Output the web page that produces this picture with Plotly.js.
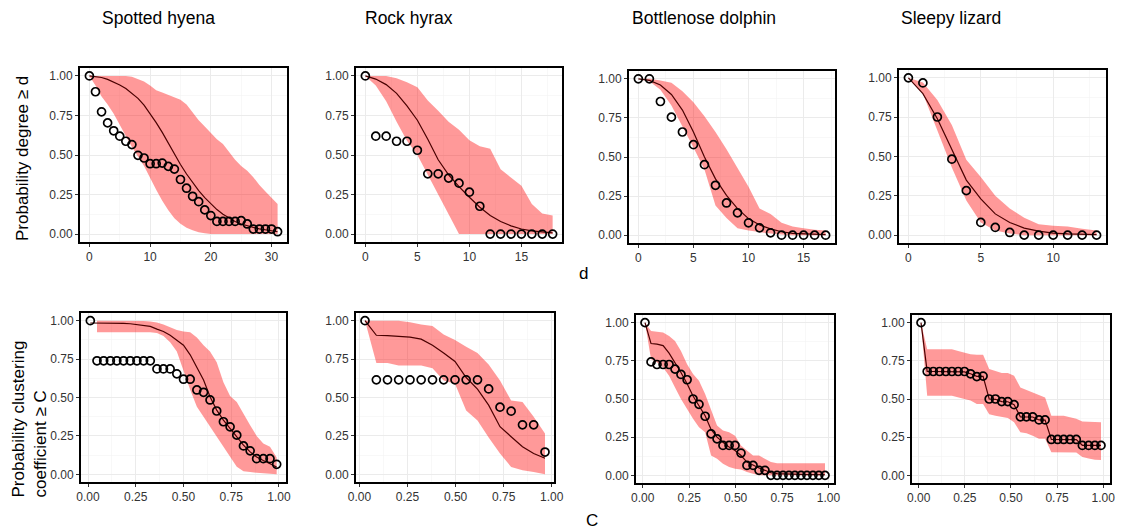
<!DOCTYPE html>
<html>
<head>
<meta charset="utf-8">
<script src="https://cdn.plot.ly/plotly-3.0.1.min.js"></script>
<style>html,body{margin:0;padding:0;background:#fff;}#chart{width:1123px;height:531px;}</style>
</head>
<body>
<div id="chart"></div>
<script>
// ---------------- DATA ----------------
const speciesTitles = ["Spotted hyena", "Rock hyrax", "Bottlenose dolphin", "Sleepy lizard"];
const degreeAxisTitle = "d";
const clusterAxisTitle = "C";
const degreeYTitle = "Probability degree \u2265 d";
const clusterYTitle1 = "Probability clustering";
const clusterYTitle2 = "coefficient \u2265 C";

// Degree distributions
const hyenaDeg = [0,1,2,3,4,5,6,7,8,9,10,11,12,13,14,15,16,17,18,19,20,21,22,23,24,25,26,27,28,29,30,31];
const hyenaDegObs = [1.00,0.90,0.773,0.703,0.653,0.619,0.587,0.566,0.498,0.481,0.445,0.445,0.449,0.428,0.411,0.345,0.29,0.239,0.205,0.153,0.117,0.08,0.08,0.08,0.08,0.085,0.064,0.032,0.032,0.032,0.032,0.015];
const hyenaDegMean = [1,0.997,0.99,0.978,0.962,0.943,0.92,0.89,0.858,0.815,0.763,0.705,0.643,0.575,0.505,0.44,0.38,0.325,0.275,0.23,0.19,0.155,0.125,0.1,0.08,0.064,0.052,0.042,0.033,0.026,0.02,0.015];
const hyenaDegUpper = [1,1,1,1,1,1,1,0.995,0.98,0.964,0.94,0.91,0.895,0.88,0.868,0.85,0.82,0.77,0.72,0.68,0.64,0.60,0.57,0.52,0.47,0.43,0.40,0.36,0.31,0.27,0.23,0.19];
const hyenaDegLower = [1,0.94,0.87,0.82,0.76,0.69,0.62,0.55,0.49,0.43,0.36,0.28,0.21,0.15,0.10,0.065,0.04,0.025,0.012,0.005,0,0,0,0,0,0,0,0,0,0,0,0];

const hyraxDeg = [0,1,2,3,4,5,6,7,8,9,10,11,12,13,14,15,16,17,18];
const hyraxDegObs = [1,0.619,0.619,0.587,0.587,0.53,0.381,0.381,0.354,0.322,0.265,0.176,0,0,0,0,0,0,0];
const hyraxDegMean = [1,0.98,0.945,0.89,0.81,0.72,0.6,0.47,0.375,0.3,0.233,0.17,0.117,0.08,0.052,0.032,0.02,0.012,0.008];
const hyraxDegUpper = [1,1,1,0.985,0.96,0.928,0.845,0.78,0.71,0.66,0.593,0.555,0.54,0.41,0.355,0.305,0.19,0.13,0.117];
const hyraxDegLower = [1,0.94,0.84,0.71,0.59,0.5,0.385,0.25,0.125,0,0,0,0,0,0,0,0,0,0];

const dolphinDeg = [0,1,2,3,4,5,6,7,8,9,10,11,12,13,14,15,16,17];
const dolphinDegObs = [1,1,0.855,0.755,0.66,0.579,0.451,0.319,0.206,0.143,0.079,0.047,0.015,0,0,0,0,0];
const dolphinDegMean = [1,0.99,0.96,0.9,0.8,0.66,0.5,0.36,0.255,0.17,0.106,0.065,0.04,0.022,0.012,0.008,0.005,0.003];
const dolphinDegUpper = [1,1,0.99,0.975,0.92,0.85,0.76,0.66,0.55,0.43,0.31,0.17,0.135,0.08,0.055,0.045,0.035,0.03];
const dolphinDegLower = [1,0.985,0.93,0.83,0.7,0.56,0.42,0.19,0.11,0.045,0.03,0.02,0.01,0.005,0,0,0,0];

const lizardDeg = [0,1,2,3,4,5,6,7,8,9,10,11,12,13];
const lizardDegObs = [1,0.968,0.751,0.483,0.283,0.081,0.049,0.017,0,0,0,0,0,0];
const lizardDegMean = [1,0.9,0.74,0.54,0.35,0.23,0.135,0.08,0.045,0.025,0.013,0.008,0.005,0.003];
const lizardDegUpper = [1,0.97,0.86,0.7,0.48,0.37,0.25,0.17,0.11,0.07,0.06,0.055,0.04,0.03];
const lizardDegLower = [1,0.9,0.66,0.43,0.22,0.08,0.03,0.01,0,0,0,0,0,0];

// Clustering coefficient distributions
const hyenaC = [0.012,0.047,0.082,0.117,0.151,0.186,0.221,0.256,0.291,0.326,0.361,0.395,0.430,0.465,0.500,0.535,0.570,0.605,0.639,0.674,0.709,0.744,0.779,0.814,0.849,0.883,0.918,0.953,0.988];
const hyenaCObs = [1.0,0.739,0.739,0.739,0.739,0.739,0.739,0.739,0.739,0.739,0.686,0.686,0.686,0.654,0.619,0.619,0.549,0.534,0.484,0.412,0.342,0.309,0.255,0.185,0.153,0.102,0.102,0.102,0.065];
const hyenaCMean = [0.985,0.985,0.985,0.984,0.983,0.982,0.98,0.975,0.97,0.963,0.945,0.93,0.905,0.875,0.84,0.778,0.70,0.614,0.505,0.418,0.353,0.3,0.244,0.19,0.146,0.113,0.09,0.07,0.048];
const hyenaCUpper = [null,1,1,1,1,1,1,1,0.998,0.995,0.988,0.975,0.955,0.94,0.93,0.925,0.89,0.84,0.8,0.73,0.6,0.51,0.47,0.39,0.32,0.25,0.2,0.18,0.11];
const hyenaCLower = [null,0.925,0.925,0.925,0.925,0.925,0.925,0.925,0.925,0.925,0.92,0.9,0.86,0.8,0.68,0.55,0.44,0.37,0.31,0.25,0.18,0.115,0.05,0.02,0.015,0.01,0.005,0.002,0];

const hyraxC = [0.029,0.088,0.146,0.204,0.263,0.321,0.380,0.438,0.497,0.555,0.614,0.672,0.731,0.789,0.848,0.906,0.965];
const hyraxCObs = [1.0,0.615,0.615,0.615,0.615,0.615,0.615,0.615,0.615,0.615,0.615,0.556,0.437,0.411,0.322,0.322,0.145];
const hyraxCMean = [1.0,0.905,0.903,0.898,0.893,0.88,0.84,0.79,0.735,0.63,0.555,0.45,0.31,0.245,0.18,0.135,0.105];
const hyraxCUpper = [1,1,1,1,0.99,0.975,0.965,0.91,0.875,0.83,0.79,0.715,0.61,0.48,0.47,0.375,0.265];
const hyraxCLower = [1,0.725,0.725,0.708,0.708,0.708,0.69,0.61,0.59,0.415,0.35,0.24,0.135,0.048,0.026,0.015,0];

const dolphinC = [0.0125,0.045,0.077,0.11,0.142,0.174,0.206,0.239,0.271,0.303,0.336,0.368,0.400,0.432,0.465,0.497,0.529,0.561,0.594,0.626,0.658,0.690,0.723,0.755,0.787,0.819,0.852,0.884,0.916,0.948,0.981];
const dolphinCObs = [1.0,0.743,0.726,0.726,0.726,0.696,0.661,0.626,0.5,0.465,0.387,0.272,0.239,0.196,0.196,0.196,0.146,0.065,0.065,0.033,0.033,0,0,0,0,0,0,0,0,0,0];
const dolphinCMean = [1.0,0.863,0.859,0.85,0.80,0.74,0.674,0.6,0.52,0.456,0.39,0.3,0.25,0.217,0.185,0.163,0.13,0.087,0.065,0.048,0.033,0.017,0.012,0.01,0.008,0.007,0.006,0.005,0.005,0.004,0.004];
const dolphinCUpper = [1.0,0.946,0.94,0.935,0.913,0.88,0.815,0.728,0.663,0.62,0.533,0.435,0.326,0.293,0.283,0.26,0.196,0.163,0.13,0.13,0.109,0.087,0.08,0.08,0.08,0.08,0.08,0.08,0.08,0.08,0.08];
const dolphinCLower = [1.0,0.76,0.74,0.707,0.652,0.576,0.5,0.435,0.37,0.315,0.283,0.13,0.109,0.076,0.054,0.043,0.039,0.022,0.01,0,0,0,0,0,0,0,0,0,0,0,0];

const lizardC = [0.0125,0.046,0.079,0.113,0.147,0.180,0.214,0.248,0.281,0.315,0.349,0.382,0.416,0.450,0.483,0.517,0.551,0.584,0.618,0.652,0.685,0.719,0.753,0.786,0.820,0.854,0.887,0.921,0.955,0.988];
const lizardCObs = [1.0,0.68,0.68,0.68,0.68,0.68,0.68,0.68,0.665,0.647,0.65,0.5,0.5,0.483,0.483,0.463,0.383,0.383,0.383,0.363,0.363,0.235,0.235,0.235,0.235,0.235,0.196,0.196,0.196,0.196];
const lizardCMean = [1.0,0.68,0.68,0.68,0.68,0.68,0.68,0.678,0.665,0.648,0.648,0.5,0.498,0.483,0.482,0.463,0.383,0.382,0.382,0.363,0.362,0.235,0.235,0.234,0.234,0.234,0.197,0.196,0.196,0.196];
const lizardCUpper = [1.0,0.826,0.826,0.826,0.826,0.826,0.815,0.804,0.793,0.79,0.79,0.696,0.685,0.67,0.67,0.652,0.576,0.56,0.543,0.522,0.51,0.39,0.39,0.39,0.38,0.37,0.352,0.352,0.348,0.348];
const lizardCLower = [1.0,0.522,0.522,0.522,0.522,0.522,0.51,0.5,0.49,0.467,0.467,0.4,0.39,0.38,0.375,0.348,0.283,0.275,0.26,0.24,0.24,0.152,0.15,0.15,0.15,0.15,0.12,0.11,0.102,0.1];

// ---------------- LAYOUT / STYLE ----------------
const W = 1123, H = 531;
const FONT = "Liberation Sans, Arial, Helvetica, sans-serif";

const panels = [
  {x: hyenaDeg,   obs: hyenaDegObs,   mean: hyenaDegMean,   up: hyenaDegUpper,   lo: hyenaDegLower,   box: [80, 287, 68, 242],  dtick: 10, fmt: ""},
  {x: hyraxDeg,   obs: hyraxDegObs,   mean: hyraxDegMean,   up: hyraxDegUpper,   lo: hyraxDegLower,   box: [356, 562, 68, 242], dtick: 5,  fmt: ""},
  {x: dolphinDeg, obs: dolphinDegObs, mean: dolphinDegMean, up: dolphinDegUpper, lo: dolphinDegLower, box: [629, 835, 71, 243], dtick: 5,  fmt: ""},
  {x: lizardDeg,  obs: lizardDegObs,  mean: lizardDegMean,  up: lizardDegUpper,  lo: lizardDegLower,  box: [899, 1106, 70, 243],dtick: 5,  fmt: ""},
  {x: hyenaC,     obs: hyenaCObs,     mean: hyenaCMean,     up: hyenaCUpper,     lo: hyenaCLower,     box: [81, 286, 313, 482], dtick: 0.25, fmt: ".2f"},
  {x: hyraxC,     obs: hyraxCObs,     mean: hyraxCMean,     up: hyraxCUpper,     lo: hyraxCLower,     box: [356, 554, 313, 482],dtick: 0.25, fmt: ".2f"},
  {x: dolphinC,   obs: dolphinCObs,   mean: dolphinCMean,   up: dolphinCUpper,   lo: dolphinCLower,   box: [636, 834, 315, 483],dtick: 0.25, fmt: ".2f"},
  {x: lizardC,    obs: lizardCObs,    mean: lizardCMean,    up: lizardCUpper,    lo: lizardCLower,    box: [912, 1110, 315, 483],dtick: 0.25, fmt: ".2f"}
];

const traces = [];
const layout = {
  width: W, height: H,
  margin: {l: 0, r: 0, t: 0, b: 0},
  paper_bgcolor: "#ffffff",
  plot_bgcolor: "#ffffff",
  showlegend: false,
  font: {family: FONT, color: "#000"},
  annotations: []
};

panels.forEach((p, i) => {
  const n = i + 1;
  const xa = "x" + (n === 1 ? "" : n);
  const ya = "y" + (n === 1 ? "" : n);

  // ribbon polygon (skip null entries)
  const rx = [], ru = [], rl = [];
  p.x.forEach((v, k) => {
    if (p.up[k] !== null && p.lo[k] !== null) { rx.push(v); ru.push(p.up[k]); rl.push(p.lo[k]); }
  });
  traces.push({
    x: rx.concat(rx.slice().reverse()),
    y: ru.concat(rl.slice().reverse()),
    xaxis: xa, yaxis: ya,
    type: "scatter", mode: "lines", fill: "toself",
    fillcolor: "rgba(255,0,0,0.4)",
    line: {width: 0, color: "rgba(0,0,0,0)"},
    hoverinfo: "skip"
  });
  traces.push({
    x: p.x, y: p.mean, xaxis: xa, yaxis: ya,
    type: "scatter", mode: "lines",
    line: {color: "#4a0000", width: 1.2}
  });
  traces.push({
    x: p.x, y: p.obs, xaxis: xa, yaxis: ya,
    type: "scatter", mode: "markers",
    marker: {symbol: "circle-open", size: 8, color: "#000", line: {color: "#000", width: 1.7}}
  });

  const xmin = Math.min(...p.x), xmax = Math.max(...p.x);
  const ex = (xmax - xmin) * 0.05;
  const [l, r, t, b] = p.box;

  layout["xaxis" + (n === 1 ? "" : n)] = {
    domain: [l / W, r / W], anchor: ya,
    range: [xmin - ex, xmax + ex],
    tick0: 0, dtick: p.dtick, tickformat: p.fmt,
    showline: true, mirror: true, linecolor: "#000", linewidth: 2,
    ticks: "outside", ticklen: 3, tickcolor: "#333", tickwidth: 1,
    showgrid: true, gridcolor: "#ebebeb", gridwidth: 1, zeroline: false,
    minor: {dtick: p.dtick / 2, showgrid: true, gridcolor: "#f4f4f4", gridwidth: 0.6},
    tickfont: {family: FONT, size: 12, color: "#333"}
  };
  layout["yaxis" + (n === 1 ? "" : n)] = {
    domain: [1 - b / H, 1 - t / H], anchor: xa,
    range: [-0.05, 1.05],
    tick0: 0, dtick: 0.25, tickformat: ".2f",
    showline: true, mirror: true, linecolor: "#000", linewidth: 2,
    ticks: "outside", ticklen: 3, tickcolor: "#333", tickwidth: 1,
    showgrid: true, gridcolor: "#ebebeb", gridwidth: 1, zeroline: false,
    minor: {dtick: 0.125, showgrid: true, gridcolor: "#f4f4f4", gridwidth: 0.6},
    tickfont: {family: FONT, size: 12, color: "#333"}
  };
});

function ann(text, px, py, opts) {
  return Object.assign({
    text: text, x: px / W, y: 1 - py / H, xref: "paper", yref: "paper",
    showarrow: false, xanchor: "center", yanchor: "middle",
    font: {family: FONT, size: 17, color: "#000"}
  }, opts || {});
}

const titleX = [158, 409, 704, 951];
speciesTitles.forEach((s, k) => layout.annotations.push(ann(s, titleX[k], 18, {font: {family: FONT, size: 17.5, color: "#000"}})));
layout.annotations.push(ann(degreeAxisTitle, 583, 274));
layout.annotations.push(ann(clusterAxisTitle, 592, 520));
layout.annotations.push(ann(degreeYTitle, 22, 159, {textangle: -90}));
layout.annotations.push(ann(clusterYTitle1, 18, 500, {textangle: -90, yanchor: "bottom"}));
layout.annotations.push(ann(clusterYTitle2, 40, 500, {textangle: -90, yanchor: "bottom"}));

Plotly.newPlot("chart", traces, layout, {staticPlot: true, displayModeBar: false});
</script>
</body>
</html>
